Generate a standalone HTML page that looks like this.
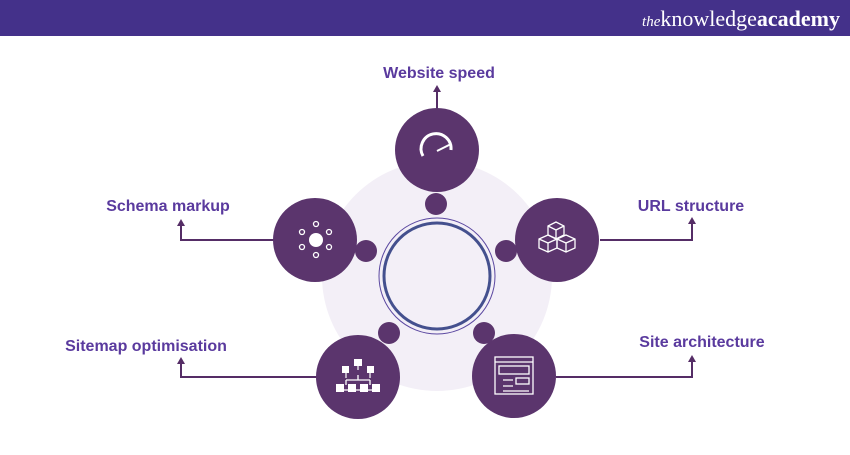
<!DOCTYPE html>
<html><head><style>
body{margin:0;width:850px;height:450px;overflow:hidden;background:#fff;font-family:"Liberation Sans",sans-serif;}
</style></head><body>
<svg width="850" height="450" viewBox="0 0 850 450" xmlns="http://www.w3.org/2000/svg">
<rect x="0" y="0" width="850" height="36" fill="#44318a"/>
<text x="840" y="26" text-anchor="end" font-family="Liberation Serif,serif" font-size="22" fill="#fff"><tspan font-style="italic" font-size="15">the</tspan>knowledge<tspan font-weight="bold">academy</tspan></text>
<circle cx="437" cy="276" r="115" fill="#f3eff7"/>
<g stroke="#552d66" stroke-width="2" fill="none">
<path d="M437 110 V90"/>
<path d="M274 240 H181 V224"/>
<path d="M600 240 H692 V222"/>
<path d="M317 377 H181 V362"/>
<path d="M556 377 H692 V360"/>
</g>
<g fill="#552d66">
<path d="M433 92 L437 85 L441 92Z"/>
<path d="M177 226 L181 219 L185 226Z"/>
<path d="M688 224 L692 217 L696 224Z"/>
<path d="M177 364 L181 357 L185 364Z"/>
<path d="M688 362 L692 355 L696 362Z"/>
</g>
<circle cx="437" cy="276" r="58" fill="none" stroke="#5a47a0" stroke-width="1"/>
<circle cx="437" cy="276" r="53" fill="none" stroke="#44508e" stroke-width="3"/>
<g fill="#5b356d">
<circle cx="437" cy="150" r="42"/>
<circle cx="557" cy="240" r="42"/>
<circle cx="315" cy="240" r="42"/>
<circle cx="358" cy="377" r="42"/>
<circle cx="514" cy="376" r="42"/>
<circle cx="436" cy="204" r="11"/>
<circle cx="506" cy="251" r="11"/>
<circle cx="366" cy="251" r="11"/>
<circle cx="389" cy="333" r="11"/>
<circle cx="484" cy="333" r="11"/>
</g>
<g stroke="#fff" fill="none" stroke-width="2">
<path d="M423 156 A15 15 0 1 1 451 150" stroke-width="3"/>
<path d="M437 151 L451 144"/>
<g stroke-width="1.3">
<path d="M548 226 l8 -4 l8 4 v9 l-8 4 l-8 -4z M548 226 l8 4 l8 -4 M556 230 v9"/>
<path d="M539 239 l9 -4 l9 4 v9 l-9 4 l-9 -4z M539 239 l9 4 l9 -4 M548 243 v9"/>
<path d="M557 239 l9 -4 l9 4 v9 l-9 4 l-9 -4z M557 239 l9 4 l9 -4 M566 243 v9"/>
<rect x="495" y="357" width="38" height="37"/>
<path d="M495 362 H533"/><rect x="499" y="366" width="30" height="8"/>
<rect x="516" y="378" width="13" height="6"/>
<path d="M503 380 H513 M503 386 H513 M503 391 H529"/>
<circle cx="302" cy="232" r="2.5"/><circle cx="316" cy="224" r="2.5"/><circle cx="329" cy="232" r="2.5"/>
<circle cx="302" cy="247" r="2.5"/><circle cx="329" cy="247" r="2.5"/><circle cx="316" cy="255" r="2.5"/>
<path d="M358 375 V380 M346 380 H370 M346 380 V385 M370 380 V385 M340 390 H374"/>
</g>
</g>
<circle cx="316" cy="240" r="7" fill="#fff"/>
<g fill="#fff">
<rect x="354" y="359" width="8" height="7"/>
<rect x="342" y="366" width="7" height="7"/><rect x="367" y="366" width="7" height="7"/>
<rect x="336" y="384" width="8" height="8"/><rect x="348" y="384" width="8" height="8"/><rect x="360" y="384" width="8" height="8"/><rect x="372" y="384" width="8" height="8"/>
</g>
<path d="M358 366 V370 M346 373 V378 M370 373 V378" stroke="#fff" stroke-width="1.2"/>
<g font-size="16" font-weight="bold" fill="#5a3a9e">
<text x="439" y="78" text-anchor="middle">Website speed</text>
<text x="168" y="211" text-anchor="middle">Schema markup</text>
<text x="691" y="211" text-anchor="middle">URL structure</text>
<text x="146" y="351" text-anchor="middle">Sitemap optimisation</text>
<text x="702" y="347" text-anchor="middle">Site architecture</text>
</g>
</svg>
</body></html>
